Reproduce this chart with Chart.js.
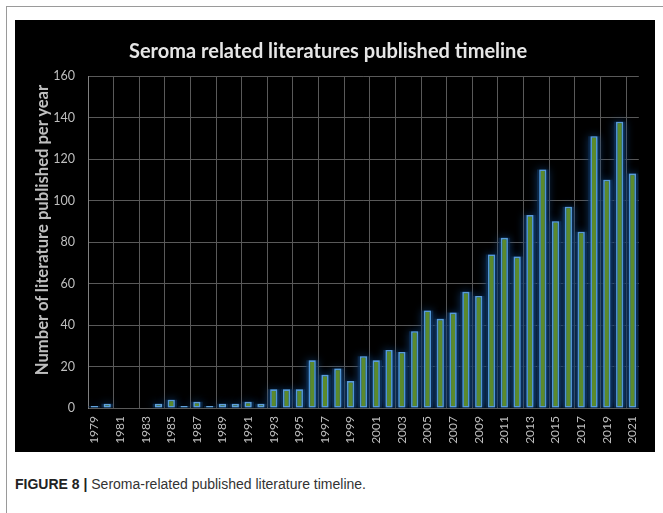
<!DOCTYPE html>
<html>
<head>
<meta charset="utf-8">
<script src="https://cdn.jsdelivr.net/npm/chart.js@4.4.1/dist/chart.umd.min.js"></script>
<style>
  body { margin: 0; background: #fff; width: 663px; height: 513px; overflow: hidden; position: relative; font-family: Lato, sans-serif; }
  #frame { position: absolute; left: 6px; top: 6px; width: 700px; height: 600px; border-top: 1px solid #9a9a9a; border-left: 1px solid #9a9a9a; }
  #panel { position: absolute; left: 15px; top: 20px; width: 640px; height: 432px; background: #000; }
  #title { position: absolute; left: 114px; top: 18px; font: bold 20px Lato, sans-serif; color: #e6e6e6; white-space: nowrap; line-height: 24px; }
  #ytitle { position: absolute; left: -122px; top: 200px; width: 298px; height: 20px; line-height: 20px; text-align: center;
            font: bold 16.6px Lato, sans-serif; color: #bfbfbf; white-space: nowrap; transform: rotate(-90deg); }
  #caption { position: absolute; left: 15px; top: 476px; font: 14px "Liberation Sans Narrow", "Liberation Sans", sans-serif; color: #333; white-space: nowrap; }
  #caption b { color: #222; }
</style>
</head>
<body>
<div id="frame"></div>
<div id="panel">
  <canvas id="chart" width="640" height="432"></canvas>
  <div id="title">Seroma related literatures published timeline</div>
  <div id="ytitle">Number of literature published per year</div>
</div>
<div id="caption"><b>FIGURE 8 |</b> Seroma-related published literature timeline.</div>

<script>
// data
const years = ['1979', '1980', '1981', '1982', '1983', '1984', '1985', '1986', '1987', '1988',
  '1989', '1990', '1991', '1992', '1993', '1994', '1995', '1996', '1997', '1998',
  '1999', '2000', '2001', '2002', '2003', '2004', '2005', '2006', '2007', '2008',
  '2009', '2010', '2011', '2012', '2013', '2014', '2015', '2016', '2017', '2018',
  '2019', '2020', '2021'];
const counts = [1, 2, 0, 0, 0, 2, 4, 1, 3, 1,
  2, 2, 3, 2, 9, 9, 9, 23, 16, 19,
  13, 25, 23, 28, 27, 37, 47, 43, 46, 56,
  54, 74, 82, 73, 93, 115, 90, 97, 85, 131,
  110, 138, 113];
const yMax = 160;
const yStep = 20;

// soft blue halo round the bars, like the Excel glow effect
const glow = {
  id: 'glow',
  beforeDatasetDraw(chart, args) {
    const ctx = chart.ctx;
    ctx.save();
    ctx.shadowColor = args.index === 0 ? 'rgba(40, 120, 200, 0.9)' : 'rgba(20, 70, 130, 0.9)';
    ctx.shadowBlur = args.index === 0 ? 6 : 8;
  },
  afterDatasetDraw(chart) {
    chart.ctx.restore();
  }
};

const gridColor = '#595959';

new Chart(document.getElementById('chart'), {
  type: 'bar',
  data: {
    labels: years,
    datasets: [{
      data: counts,
      backgroundColor: '#5b8a2c',
      borderColor: '#62a3dd',
      borderWidth: 1.6,
      borderSkipped: false,
      barPercentage: 0.56,
      categoryPercentage: 1,
      grouped: false,
      order: 0
    }, {
      // the halo behind each bar
      data: counts,
      backgroundColor: 'rgba(14, 45, 82, 0.75)',
      borderWidth: 0,
      barPercentage: 0.9,
      categoryPercentage: 1,
      grouped: false,
      order: 1
    }]
  },
  options: {
    responsive: false,
    animation: false,
    devicePixelRatio: 1,
    layout: { padding: { top: 56, right: 14, bottom: 0, left: 0 } },
    plugins: {
      legend: { display: false },
      tooltip: { enabled: false }
    },
    scales: {
      x: {
        afterFit(scale) { scale.height = 44; },
        grid: {
          offset: true,
          drawTicks: false,
          color: (ctx) => (ctx.index % 2 === 0 ? gridColor : 'rgba(0,0,0,0)')
        },
        border: { color: gridColor },
        ticks: {
          autoSkip: false,
          minRotation: 90,
          maxRotation: 90,
          padding: 8,
          color: '#bfbfbf',
          font: { family: 'Lato', size: 12 },
          callback(value, index) { return index % 2 === 0 ? years[index] : ''; }
        }
      },
      y: {
        min: 0,
        max: yMax,
        afterFit(scale) { scale.width = 73; },
        grid: { color: gridColor, drawTicks: false },
        border: { color: '#808080' },
        ticks: {
          stepSize: yStep,
          padding: 13,
          color: '#bfbfbf',
          font: { family: 'Lato', size: 12.5 }
        }
      }
    }
  },
  plugins: [glow]
});
</script>
</body>
</html>
